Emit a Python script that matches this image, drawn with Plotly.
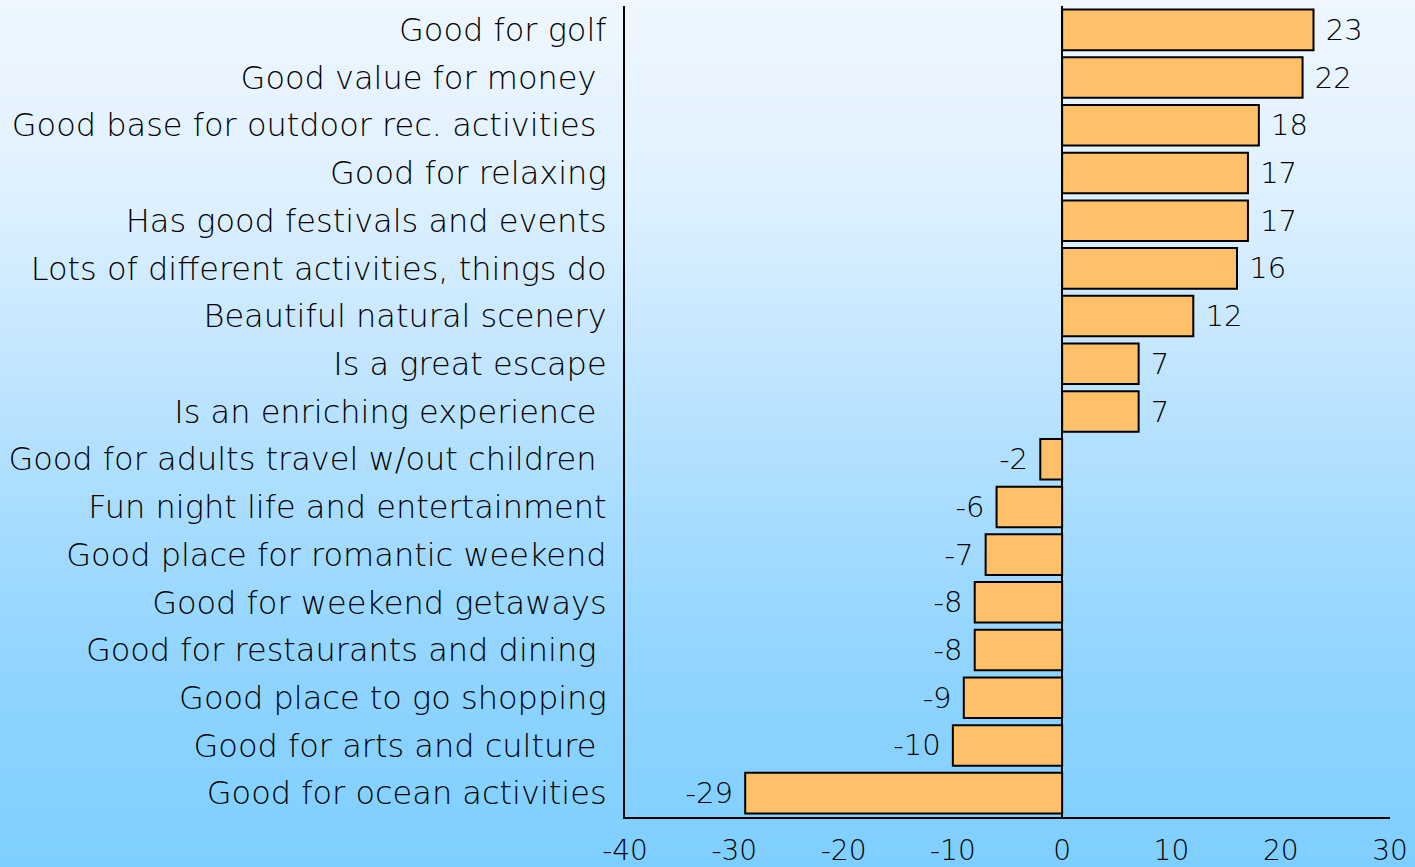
import plotly.graph_objects as go

# chart data, read top to bottom
NBSP = '\u00a0'
CATEGORIES = [
    'Good for golf',
    'Good value for money' + NBSP,
    'Good base for outdoor rec. activities' + NBSP,
    'Good for relaxing',
    'Has good festivals and events',
    'Lots of different activities, things do',
    'Beautiful natural scenery',
    'Is a great escape',
    'Is an enriching experience' + NBSP,
    'Good for adults travel w/out children' + NBSP,
    'Fun night life and entertainment',
    'Good place for romantic weekend',
    'Good for weekend getaways',
    'Good for restaurants and dining' + NBSP,
    'Good place to go shopping',
    'Good for arts and culture' + NBSP,
    'Good for ocean activities',
]
VALUES = [23, 22, 18, 17, 17, 16, 12, 7, 7, -2, -6, -7, -8, -8, -9, -10, -29]
X_TICKS = [-40, -30, -20, -10, 0, 10, 20, 30]

FONT = 'DejaVu Sans ExtraLight, DejaVu Sans'
BAR_COLOR = '#FFC06A'
# background gradient stops: (fraction from top of page, rgb)
BG_STOPS = [
    (0.00, (238, 247, 255)),
    (0.23, (222, 240, 255)),
    (0.52, (178, 224, 255)),
    (0.78, (143, 212, 255)),
    (1.00, (126, 207, 255)),
]

W, H = 1415, 867
M_L, M_R, M_T, M_B = 625, 25, 6, 50

# pad the value labels a little away from the bar ends
labels = [(NBSP + str(v)) if v >= 0 else (str(v) + NBSP) for v in VALUES]

fig = go.Figure(go.Bar(
    y=CATEGORIES,
    x=VALUES,
    orientation='h',
    marker=dict(color=BAR_COLOR, line=dict(color='black', width=2)),
    width=0.85,
    text=labels,
    textposition='outside',
    textfont=dict(family=FONT, size=29, color='black', weight=300),
    cliponaxis=False,
))


def bg_color(f):
    for (fa, ca), (fb, cb) in zip(BG_STOPS[:-1], BG_STOPS[1:]):
        if f <= fb:
            t = (f - fa) / (fb - fa)
            return tuple(round(ca[k] + (cb[k] - ca[k]) * t) for k in range(3))
    return BG_STOPS[-1][1]


# vertical gradient background drawn as thin bands
plot_h = H - M_T - M_B
plot_w = W - M_L - M_R
x0 = -M_L / plot_w
x1 = 1 + M_R / plot_w
N = 120
shapes = []
for i in range(N):
    top_px = H * i / N
    bot_px = H * (i + 1) / N
    r, g, b = bg_color((top_px + bot_px) / 2 / H)
    ya = 1 - (bot_px - M_T) / plot_h
    yb = 1 - (top_px - M_T) / plot_h
    shapes.append(dict(type='rect', xref='paper', yref='paper', x0=x0, x1=x1,
                       y0=ya - 0.002, y1=yb, fillcolor=f'rgb({r},{g},{b})',
                       line=dict(width=0), layer='below'))

fig.update_layout(
    width=W, height=H,
    margin=dict(l=M_L, r=M_R, t=M_T, b=M_B, autoexpand=False),
    paper_bgcolor='rgba(0,0,0,0)',
    plot_bgcolor='rgba(0,0,0,0)',
    shapes=shapes,
    showlegend=False,
    font=dict(family=FONT, size=28, color='black', weight=300),
    bargap=0.15,
)
fig.update_xaxes(
    range=[-40, 30],
    tickvals=X_TICKS,
    ticktext=[str(v) for v in X_TICKS],
    showgrid=False,
    zeroline=True, zerolinecolor='black', zerolinewidth=2,
    showline=True, linecolor='black', linewidth=2,
    ticks='', ticklabelstandoff=7, automargin=False,
    tickfont=dict(family=FONT, size=28, color='black', weight=300),
)
fig.update_yaxes(
    categoryorder='array', categoryarray=CATEGORIES,
    autorange='reversed',
    showgrid=False,
    showline=True, linecolor='black', linewidth=2,
    ticks='', ticklabelstandoff=10, automargin=False,
    tickfont=dict(family=FONT, size=32, color='black', weight=300),
)

fig.write_html('out.html', config={'displayModeBar': False},
               post_script="document.body.style.margin='0px';")
